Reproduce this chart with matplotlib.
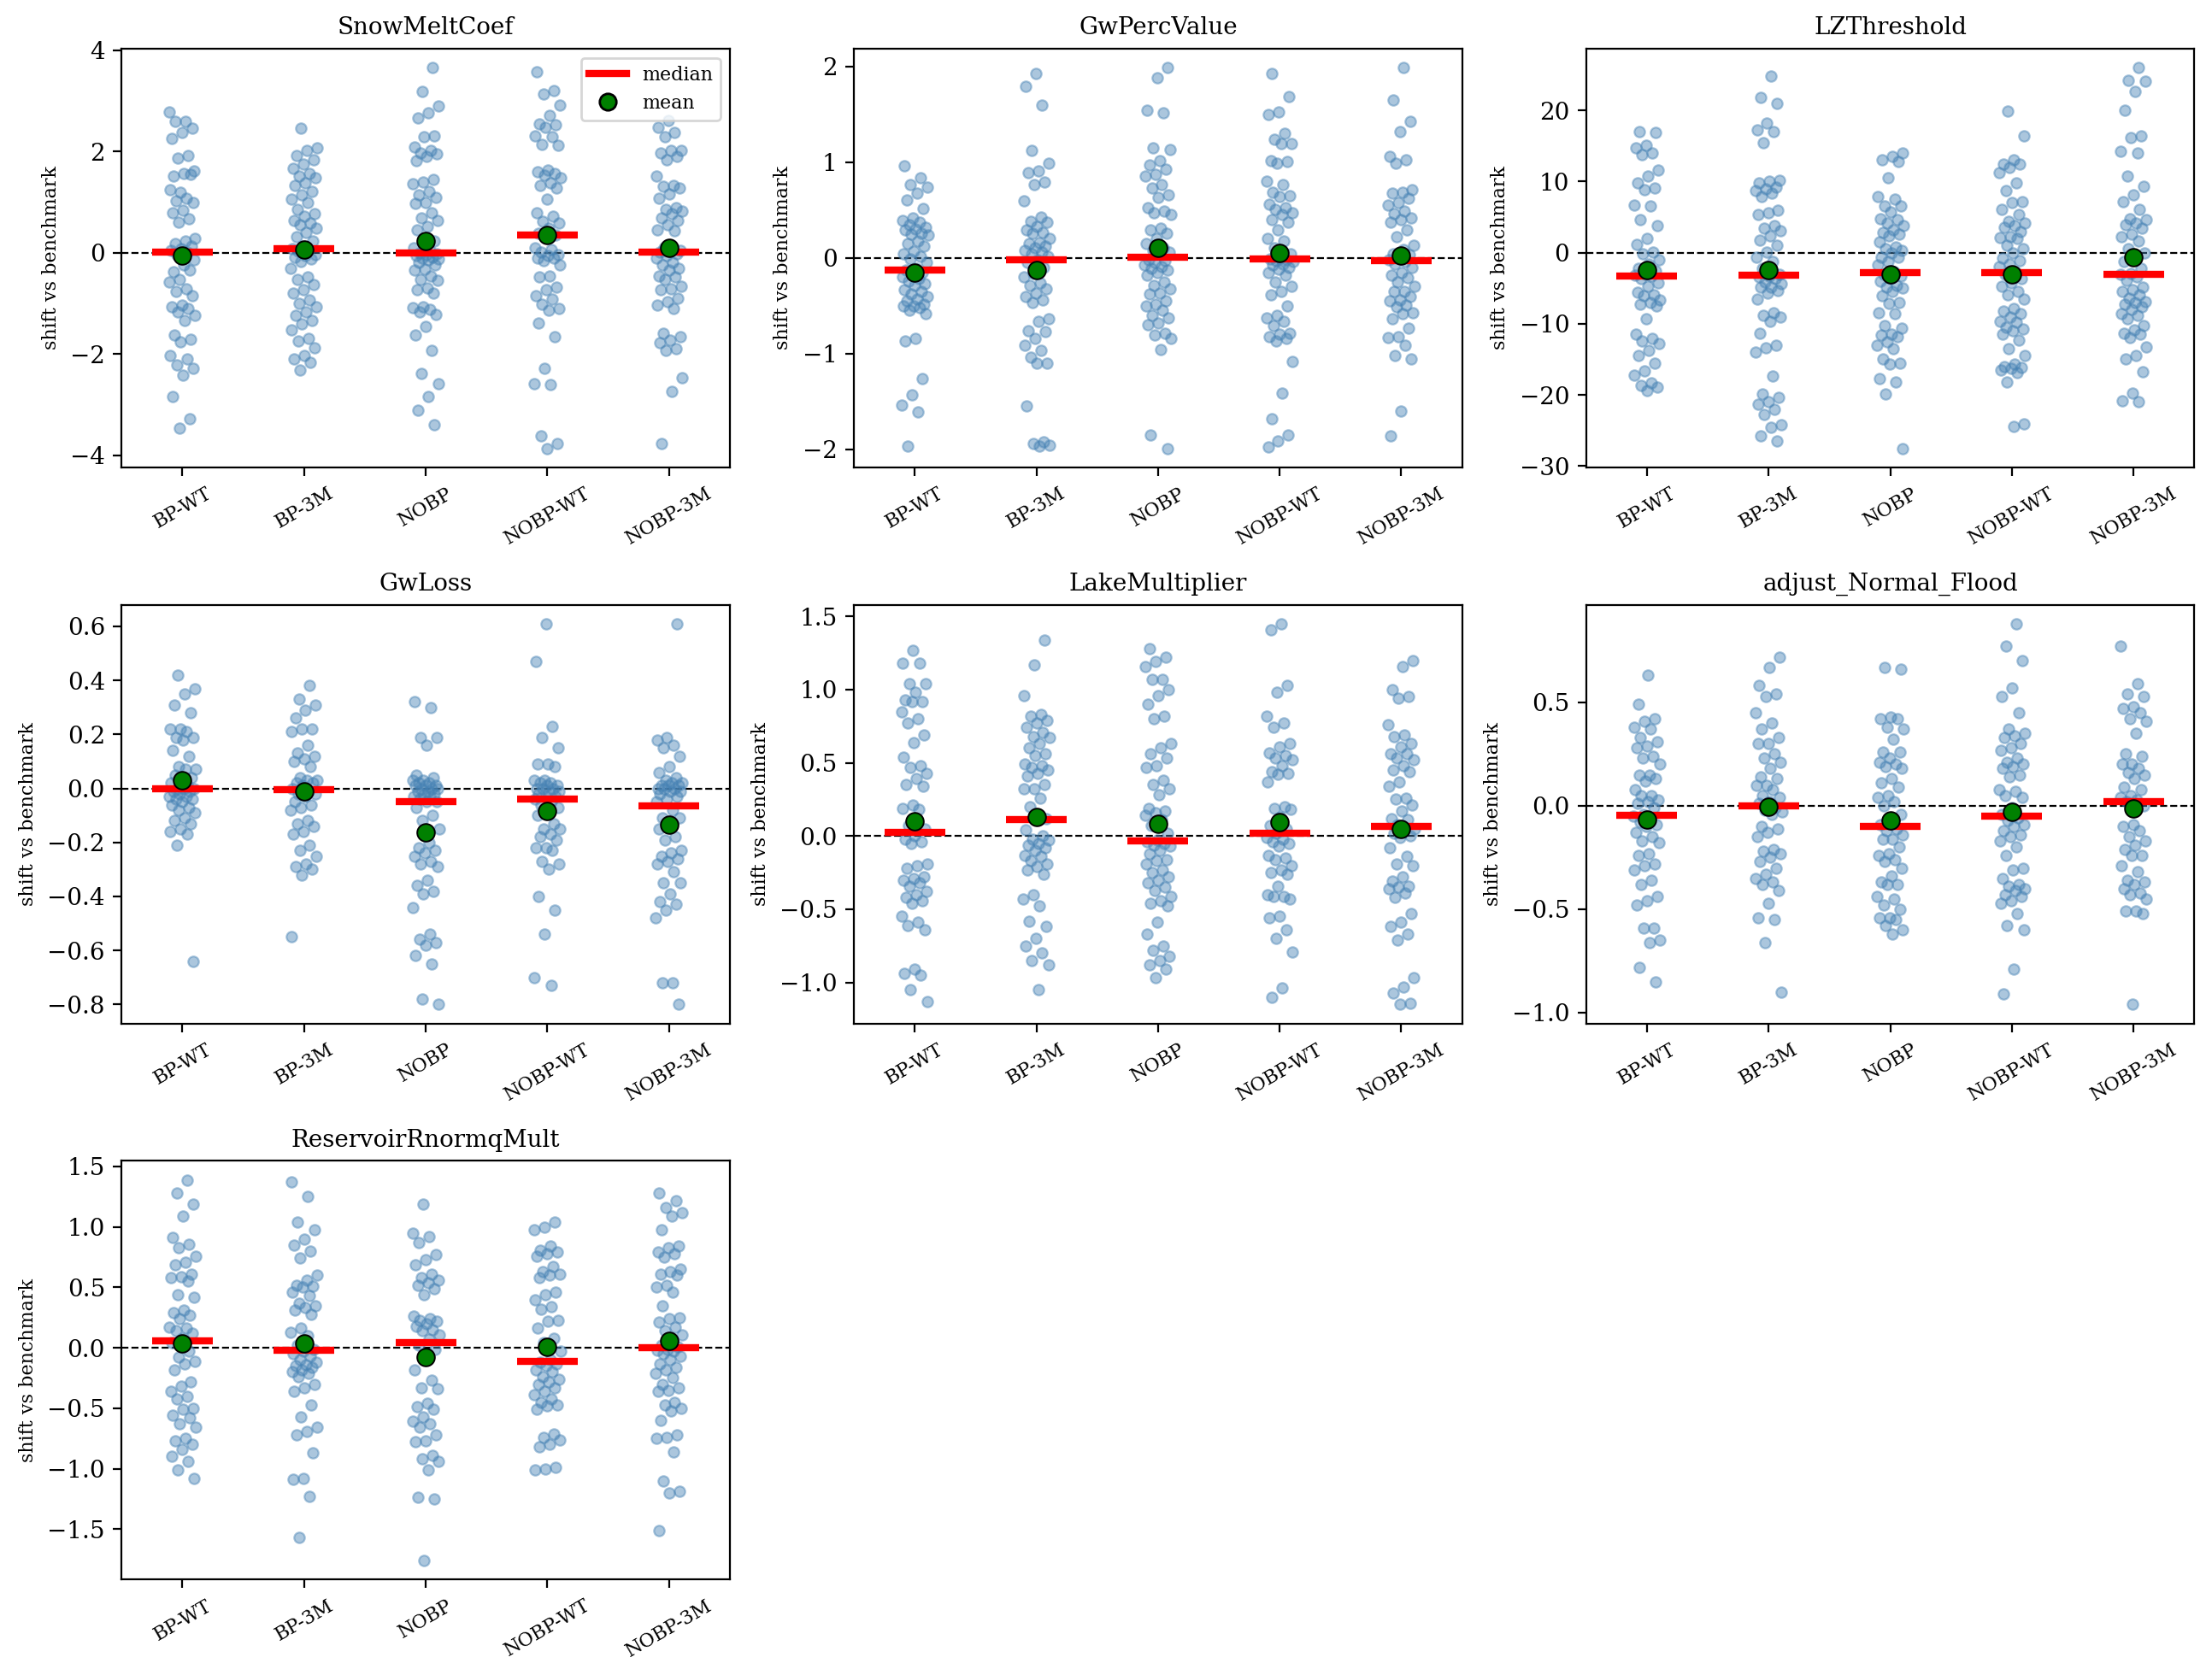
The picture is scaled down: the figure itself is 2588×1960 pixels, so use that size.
import matplotlib
matplotlib.use("Agg")
import matplotlib.pyplot as plt
import numpy as np
from matplotlib.lines import Line2D

plt.rcParams["font.family"] = "serif"

groups = ["BP-WT", "BP-3M", "NOBP", "NOBP-WT", "NOBP-3M"]
titles = ["SnowMeltCoef", "GwPercValue", "LZThreshold", "GwLoss",
          "LakeMultiplier", "adjust_Normal_Flood", "ReservoirRnormqMult"]

# shift vs benchmark, one list per group
snowmelt = [
    [2.78, 2.6, 2.6, 2.47, 2.38, 2.26, 1.92, 1.88, 1.62, 1.57, 1.52, 1.55, 1.19, 1.24, 1.08, 1.03, 1.0, 0.85, 0.79,
     0.67, 0.61, 0.28, 0.24, 0.19, 0.14, 0.09, 0.05, 0.02, -0.03, -0.14, -0.24, -0.37, -0.34, -0.52, -0.57, -0.71,
     -0.76, -0.85, -1.03, -1.07, -1.1, -1.17, -1.24, -1.34, -1.62, -1.7, -1.76, -2.03, -2.09, -2.21, -2.28, -2.41,
     -2.83, -3.28, -3.47],
    [2.46, 2.07, 2.02, 1.93, 1.84, 1.76, 1.67, 1.57, 1.52, 1.48, 1.38, 1.34, 1.21, 1.14, 1.07, 1.0, 0.86, 0.78, 0.72,
     0.64, 0.59, 0.55, 0.48, 0.41, 0.32, 0.24, 0.14, 0.09, 0.06, 0.03, -0.03, -0.05, -0.09, -0.12, -0.17, -0.31, -0.48,
     -0.52, -0.62, -0.72, -0.79, -0.93, -1.0, -1.07, -1.17, -1.24, -1.33, -1.41, -1.52, -1.69, -1.74, -1.88, -2.03,
     -2.09, -2.17, -2.32],
    [3.66, 3.19, 2.9, 2.76, 2.67, 2.31, 2.29, 2.1, 2.02, 1.98, 1.95, 1.9, 1.83, 1.45, 1.4, 1.36, 1.21, 1.15, 1.1, 1.0,
     0.97, 0.79, 0.69, 0.64, 0.52, 0.45, 0.24, 0.17, 0.1, 0.05, 0.0, -0.02, -0.04, -0.06, -0.08, -0.1, -0.12, -0.14,
     -0.18, -0.24, -0.32, -0.34, -0.45, -0.52, -0.55, -0.69, -0.72, -0.79, -1.06, -1.08, -1.12, -1.17, -1.21, -1.45,
     -1.63, -1.93, -2.39, -2.59, -2.83, -3.1, -3.4],
    [3.57, 3.21, 3.14, 2.92, 2.71, 2.55, 2.53, 2.48, 2.31, 2.3, 2.14, 2.12, 1.64, 1.61, 1.57, 1.53, 1.48, 1.38, 1.34,
     1.28, 1.07, 0.79, 0.72, 0.62, 0.59, 0.48, 0.38, 0.36, 0.3, 0.1, 0.07, 0.02, -0.03, -0.05, -0.1, -0.1, -0.16, -0.24,
     -0.45, -0.48, -0.67, -0.72, -0.85, -0.92, -1.01, -1.1, -1.14, -1.38, -1.66, -2.28, -2.59, -2.6, -3.62, -3.76,
     -3.86],
    [2.62, 2.48, 2.38, 2.3, 2.03, 2.02, 1.98, 1.91, 1.84, 1.52, 1.34, 1.31, 1.28, 1.17, 1.08, 0.9, 0.86, 0.83, 0.78,
     0.69, 0.64, 0.55, 0.46, 0.43, 0.1, 0.05, 0.03, 0.01, -0.02, -0.05, -0.1, -0.19, -0.24, -0.3, -0.34, -0.45, -0.48,
     -0.52, -0.66, -0.71, -0.72, -0.9, -0.97, -1.03, -1.1, -1.59, -1.66, -1.72, -1.77, -1.9, -1.93, -2.46, -2.74,
     -3.76],
]

gwperc = [
    [0.96, 0.84, 0.77, 0.74, 0.68, 0.61, 0.52, 0.42, 0.39, 0.37, 0.35, 0.32, 0.3, 0.29, 0.26, 0.25, 0.24, 0.18, 0.15,
     0.12, 0.07, 0.04, 0.02, -0.01, -0.05, -0.11, -0.13, -0.15, -0.16, -0.2, -0.22, -0.24, -0.27, -0.29, -0.33, -0.35,
     -0.38, -0.4, -0.43, -0.45, -0.48, -0.5, -0.5, -0.52, -0.55, -0.58, -0.84, -0.87, -1.26, -1.43, -1.54, -1.61,
     -1.97],
    [1.93, 1.79, 1.6, 1.12, 0.99, 0.91, 0.89, 0.79, 0.77, 0.6, 0.43, 0.38, 0.37, 0.33, 0.29, 0.27, 0.26, 0.2, 0.16,
     0.15, 0.12, 0.11, 0.08, 0.06, 0.04, 0.02, -0.02, -0.05, -0.1, -0.16, -0.2, -0.26, -0.29, -0.32, -0.37, -0.4, -0.44,
     -0.47, -0.64, -0.66, -0.76, -0.77, -0.84, -0.91, -0.97, -1.04, -1.1, -1.1, -1.55, -1.92, -1.94, -1.96, -1.97],
    [1.99, 1.88, 1.54, 1.52, 1.15, 1.13, 1.02, 0.97, 0.93, 0.87, 0.86, 0.77, 0.73, 0.66, 0.63, 0.53, 0.49, 0.47, 0.45,
     0.31, 0.29, 0.26, 0.2, 0.15, 0.11, 0.08, 0.06, 0.04, -0.02, -0.03, -0.05, -0.07, -0.09, -0.11, -0.13, -0.15,
     -0.18, -0.25, -0.29, -0.32, -0.37, -0.38, -0.45, -0.48, -0.5, -0.55, -0.6, -0.63, -0.68, -0.7, -0.79, -0.81,
     -0.84, -0.96, -1.85, -1.99],
    [1.93, 1.69, 1.53, 1.5, 1.3, 1.24, 1.2, 1.2, 1.02, 1.01, 0.99, 0.8, 0.77, 0.69, 0.65, 0.64, 0.56, 0.53, 0.51, 0.47,
     0.45, 0.4, 0.37, 0.29, 0.2, 0.18, 0.11, 0.04, 0.0, -0.01, -0.02, -0.03, -0.04, -0.06, -0.07, -0.1, -0.12, -0.15,
     -0.18, -0.25, -0.3, -0.35, -0.39, -0.5, -0.6, -0.63, -0.66, -0.71, -0.79, -0.8, -0.82, -0.84, -0.87, -1.08,
     -1.41, -1.68, -1.85, -1.91, -1.98],
    [1.99, 1.65, 1.43, 1.32, 1.06, 1.03, 0.99, 0.71, 0.69, 0.68, 0.62, 0.58, 0.55, 0.49, 0.46, 0.42, 0.4, 0.37, 0.29,
     0.22, 0.13, 0.09, 0.04, 0.03, 0.0, -0.02, -0.04, -0.06, -0.1, -0.15, -0.18, -0.21, -0.25, -0.3, -0.35, -0.35,
     -0.4, -0.44, -0.45, -0.49, -0.51, -0.57, -0.58, -0.64, -0.73, -0.82, -0.83, -0.91, -1.02, -1.06, -1.6, -1.86],
]

lzthresh = [
    [16.95, 16.85, 15.1, 14.7, 14.0, 13.8, 11.6, 10.8, 9.8, 9.1, 8.8, 6.7, 6.6, 4.6, 3.8, 2.0, 1.1, 0.1, -0.2, -1.0,
     -1.6, -2.2, -2.6, -3.0, -3.2, -3.3, -3.7, -4.2, -4.7, -5.6, -5.9, -6.1, -6.7, -7.0, -7.2, -7.5, -9.3, -11.5,
     -12.0, -12.4, -12.8, -13.8, -14.5, -15.5, -16.6, -17.2, -18.3, -18.7, -18.9, -19.4],
    [24.8, 21.8, 21.0, 18.2, 17.3, 17.0, 15.4, 10.2, 10.0, 9.8, 9.2, 9.0, 8.7, 8.4, 7.9, 5.9, 5.6, 5.3, 3.8, 3.4, 3.1,
     2.3, 1.7, 1.0, 0.1, -0.7, -1.3, -2.2, -3.0, -3.3, -3.4, -3.6, -4.1, -4.4, -4.8, -4.9, -5.3, -5.7, -6.5, -8.4,
     -8.8, -9.1, -9.6, -11.3, -13.0, -13.4, -14.0, -17.4, -19.9, -20.4, -20.9, -21.3, -22.0, -22.8, -24.2, -24.6,
     -25.7, -26.5],
    [14.0, 13.5, 13.1, 12.8, 10.5, 7.9, 7.5, 6.6, 6.5, 5.7, 4.8, 4.6, 4.2, 3.8, 3.2, 2.8, 2.6, 2.3, 1.5, 0.8, 0.6, 0.3,
     0.0, -0.6, -0.7, -1.3, -1.7, -2.7, -3.0, -3.3, -3.7, -4.0, -4.6, -4.9, -5.0, -5.5, -6.0, -7.0, -7.1, -8.4, -8.6,
     -10.3, -10.6, -11.4, -11.6, -11.8, -12.5, -13.0, -13.5, -15.0, -15.5, -15.7, -17.7, -18.2, -19.9, -27.5],
    [19.9, 16.4, 13.0, 12.5, 12.4, 12.0, 11.3, 9.8, 8.7, 7.2, 7.0, 6.1, 5.3, 4.4, 4.2, 3.8, 3.6, 2.9, 2.2, 2.1, 2.0,
     1.0, 0.6, -0.1, -0.8, -1.1, -1.6, -2.0, -2.7, -3.0, -3.7, -4.2, -4.7, -5.4, -5.9, -6.5, -7.9, -8.2, -8.6, -9.1,
     -9.6, -9.8, -10.5, -10.7, -11.0, -11.5, -12.3, -13.5, -14.5, -15.7, -16.0, -16.2, -16.3, -16.5, -16.9, -18.2,
     -24.1, -24.4],
    [26.0, 24.2, 24.1, 22.6, 20.0, 16.4, 16.2, 14.2, 14.0, 10.8, 9.3, 8.1, 7.1, 6.1, 4.8, 4.6, 4.2, 3.9, 3.4, 2.6, 2.2,
     1.6, 0.5, -0.1, -0.7, -1.2, -2.2, -2.9, -3.1, -3.4, -3.9, -4.9, -5.2, -5.5, -5.9, -6.4, -6.9, -7.0, -7.2, -7.6,
     -8.0, -8.6, -8.8, -9.3, -10.3, -10.8, -11.3, -11.5, -11.9, -13.3, -14.5, -15.0, -16.7, -19.7, -20.8, -20.9],
]

gwloss = [
    [0.42, 0.37, 0.35, 0.31, 0.28, 0.22, 0.22, 0.21, 0.19, 0.19, 0.18, 0.14, 0.12, 0.08, 0.07, 0.07, 0.05, 0.04, 0.03,
     0.02, 0.01, 0.0, 0.0, 0.0, -0.01, -0.01, -0.02, -0.03, -0.03, -0.04, -0.04, -0.05, -0.06, -0.07, -0.08, -0.09,
     -0.11, -0.12, -0.13, -0.15, -0.16, -0.17, -0.21, -0.64],
    [0.38, 0.33, 0.31, 0.29, 0.26, 0.22, 0.22, 0.21, 0.16, 0.13, 0.12, 0.11, 0.1, 0.08, 0.04, 0.03, 0.03, 0.02, 0.02,
     0.01, 0.0, -0.01, -0.02, -0.02, -0.03, -0.05, -0.06, -0.07, -0.08, -0.12, -0.13, -0.14, -0.16, -0.17, -0.21,
     -0.23, -0.25, -0.28, -0.29, -0.3, -0.32, -0.55],
    [0.32, 0.3, 0.19, 0.19, 0.16, 0.05, 0.04, 0.03, 0.03, 0.02, 0.02, 0.01, 0.01, 0.01, 0.0, 0.0, 0.0, -0.01, -0.01,
     -0.02, -0.02, -0.03, -0.03, -0.04, -0.05, -0.05, -0.07, -0.1, -0.12, -0.15, -0.2, -0.22, -0.23, -0.24, -0.25,
     -0.27, -0.28, -0.29, -0.34, -0.36, -0.38, -0.39, -0.44, -0.54, -0.56, -0.57, -0.58, -0.62, -0.65, -0.78, -0.8],
    [0.61, 0.47, 0.23, 0.19, 0.15, 0.09, 0.09, 0.08, 0.03, 0.03, 0.02, 0.02, 0.01, 0.01, 0.0, 0.0, 0.0, -0.01, -0.01,
     -0.02, -0.03, -0.03, -0.04, -0.05, -0.06, -0.07, -0.08, -0.1, -0.13, -0.15, -0.15, -0.17, -0.18, -0.19, -0.22,
     -0.22, -0.23, -0.27, -0.28, -0.3, -0.4, -0.45, -0.54, -0.7, -0.73],
    [0.61, 0.19, 0.18, 0.16, 0.15, 0.12, 0.08, 0.06, 0.04, 0.03, 0.02, 0.02, 0.01, 0.01, 0.01, 0.0, 0.0, 0.0, -0.01,
     -0.01, -0.02, -0.03, -0.04, -0.05, -0.08, -0.11, -0.11, -0.14, -0.15, -0.18, -0.19, -0.23, -0.24, -0.25, -0.26,
     -0.27, -0.28, -0.31, -0.35, -0.35, -0.39, -0.42, -0.43, -0.45, -0.48, -0.72, -0.72, -0.8],
]

lakemult = [
    [1.27, 1.18, 1.18, 1.04, 1.04, 0.98, 0.93, 0.92, 0.92, 0.85, 0.8, 0.77, 0.69, 0.64, 0.54, 0.48, 0.47, 0.43, 0.39,
     0.35, 0.34, 0.21, 0.19, 0.18, 0.07, 0.05, 0.0, -0.02, -0.04, -0.05, -0.19, -0.2, -0.22, -0.28, -0.29, -0.3,
     -0.32, -0.34, -0.38, -0.4, -0.42, -0.44, -0.46, -0.55, -0.59, -0.61, -0.64, -0.91, -0.94, -0.95, -1.05, -1.13],
    [1.34, 1.17, 0.96, 0.83, 0.82, 0.79, 0.77, 0.74, 0.71, 0.68, 0.67, 0.63, 0.6, 0.56, 0.55, 0.49, 0.48, 0.47, 0.45,
     0.43, 0.41, 0.35, 0.32, 0.32, 0.26, 0.2, 0.12, 0.11, 0.04, 0.0, -0.02, -0.03, -0.05, -0.06, -0.08, -0.1, -0.13,
     -0.14, -0.17, -0.19, -0.21, -0.23, -0.26, -0.4, -0.43, -0.48, -0.58, -0.62, -0.7, -0.75, -0.8, -0.85, -0.88,
     -1.05],
    [1.28, 1.22, 1.19, 1.16, 1.07, 1.07, 1.0, 0.96, 0.9, 0.82, 0.8, 0.63, 0.6, 0.56, 0.53, 0.48, 0.47, 0.38, 0.35,
     0.32, 0.28, 0.19, 0.17, 0.16, 0.14, 0.11, 0.07, 0.02, -0.03, -0.04, -0.05, -0.06, -0.07, -0.1, -0.12, -0.16,
     -0.17, -0.19, -0.23, -0.25, -0.28, -0.3, -0.32, -0.35, -0.37, -0.41, -0.44, -0.46, -0.48, -0.59, -0.67, -0.75,
     -0.78, -0.82, -0.85, -0.88, -0.91, -0.97],
    [1.45, 1.41, 1.03, 0.98, 0.82, 0.77, 0.74, 0.63, 0.61, 0.57, 0.55, 0.53, 0.52, 0.48, 0.44, 0.43, 0.42, 0.37, 0.2,
     0.19, 0.18, 0.13, 0.07, 0.05, 0.02, -0.01, -0.02, -0.04, -0.05, -0.07, -0.13, -0.15, -0.16, -0.2, -0.23, -0.25,
     -0.26, -0.34, -0.4, -0.41, -0.41, -0.43, -0.55, -0.56, -0.64, -0.7, -0.79, -1.04, -1.1],
    [1.2, 1.16, 1.0, 0.95, 0.94, 0.76, 0.69, 0.68, 0.63, 0.61, 0.56, 0.56, 0.53, 0.52, 0.48, 0.45, 0.44, 0.37, 0.34,
     0.26, 0.25, 0.21, 0.17, 0.12, 0.11, 0.08, 0.05, 0.04, 0.02, 0.0, -0.01, -0.08, -0.14, -0.19, -0.2, -0.28, -0.31,
     -0.34, -0.35, -0.36, -0.39, -0.42, -0.53, -0.59, -0.62, -0.67, -0.71, -0.97, -1.03, -1.07, -1.14, -1.15],
]

normflood = [
    [0.63, 0.49, 0.42, 0.41, 0.38, 0.37, 0.33, 0.31, 0.29, 0.28, 0.24, 0.23, 0.2, 0.15, 0.15, 0.13, 0.12, 0.08, 0.05,
     0.05, 0.03, 0.02, 0.01, -0.01, -0.04, -0.05, -0.07, -0.08, -0.09, -0.1, -0.13, -0.15, -0.17, -0.18, -0.23,
     -0.24, -0.28, -0.29, -0.31, -0.36, -0.38, -0.44, -0.46, -0.48, -0.59, -0.59, -0.65, -0.66, -0.78, -0.85],
    [0.72, 0.67, 0.58, 0.54, 0.53, 0.45, 0.4, 0.37, 0.33, 0.3, 0.3, 0.25, 0.23, 0.21, 0.18, 0.14, 0.13, 0.1, 0.1, 0.08,
     0.05, 0.04, 0.02, 0.01, -0.01, -0.02, -0.03, -0.04, -0.1, -0.11, -0.13, -0.15, -0.21, -0.22, -0.23, -0.25, -0.27,
     -0.3, -0.33, -0.35, -0.37, -0.38, -0.41, -0.47, -0.54, -0.55, -0.66, -0.9],
    [0.67, 0.66, 0.43, 0.42, 0.42, 0.38, 0.37, 0.32, 0.26, 0.26, 0.23, 0.21, 0.2, 0.19, 0.18, 0.13, 0.11, 0.09, 0.05,
     0.04, 0.02, 0.0, -0.04, -0.07, -0.09, -0.11, -0.12, -0.14, -0.16, -0.16, -0.2, -0.23, -0.24, -0.26, -0.27, -0.3,
     -0.34, -0.37, -0.38, -0.38, -0.44, -0.45, -0.48, -0.5, -0.54, -0.54, -0.55, -0.58, -0.6, -0.62],
    [0.88, 0.77, 0.7, 0.57, 0.53, 0.45, 0.37, 0.35, 0.34, 0.33, 0.3, 0.28, 0.27, 0.23, 0.21, 0.2, 0.19, 0.18, 0.15,
     0.14, 0.08, 0.07, 0.05, 0.04, -0.01, -0.04, -0.06, -0.07, -0.09, -0.1, -0.12, -0.14, -0.15, -0.17, -0.2, -0.24,
     -0.3, -0.31, -0.35, -0.38, -0.39, -0.4, -0.41, -0.43, -0.44, -0.46, -0.47, -0.52, -0.58, -0.6, -0.79, -0.91],
    [0.77, 0.59, 0.54, 0.53, 0.48, 0.47, 0.45, 0.42, 0.41, 0.35, 0.25, 0.24, 0.2, 0.2, 0.18, 0.16, 0.15, 0.13, 0.09,
     0.08, 0.05, 0.04, 0.03, 0.02, 0.0, -0.09, -0.1, -0.12, -0.15, -0.17, -0.19, -0.21, -0.24, -0.24, -0.29, -0.32,
     -0.36, -0.37, -0.38, -0.4, -0.42, -0.43, -0.45, -0.51, -0.51, -0.52, -0.96],
]

resmult = [
    [1.39, 1.28, 1.19, 1.09, 0.91, 0.86, 0.83, 0.76, 0.71, 0.69, 0.61, 0.59, 0.58, 0.55, 0.44, 0.42, 0.31, 0.29, 0.27,
     0.24, 0.17, 0.16, 0.14, 0.12, 0.08, 0.04, -0.03, -0.08, -0.11, -0.13, -0.18, -0.28, -0.32, -0.36, -0.4, -0.42,
     -0.5, -0.51, -0.56, -0.58, -0.63, -0.66, -0.75, -0.77, -0.8, -0.84, -0.9, -0.94, -1.01, -1.08],
    [1.37, 1.25, 1.04, 0.98, 0.9, 0.85, 0.8, 0.74, 0.6, 0.56, 0.52, 0.51, 0.5, 0.46, 0.43, 0.37, 0.35, 0.33, 0.31,
     0.28, 0.16, 0.13, 0.1, 0.02, -0.01, -0.03, -0.05, -0.07, -0.1, -0.12, -0.14, -0.15, -0.16, -0.18, -0.2, -0.21,
     -0.24, -0.3, -0.33, -0.36, -0.47, -0.57, -0.66, -0.69, -0.72, -0.87, -1.08, -1.09, -1.23, -1.57],
    [1.19, 0.95, 0.92, 0.87, 0.77, 0.73, 0.69, 0.61, 0.58, 0.56, 0.54, 0.52, 0.49, 0.44, 0.26, 0.24, 0.23, 0.22, 0.2,
     0.18, 0.15, 0.14, 0.11, 0.07, 0.02, -0.01, -0.1, -0.18, -0.27, -0.33, -0.34, -0.46, -0.49, -0.51, -0.57, -0.61,
     -0.63, -0.66, -0.72, -0.77, -0.78, -0.89, -0.92, -0.94, -1.01, -1.24, -1.25, -1.76],
    [1.04, 1.0, 0.98, 0.84, 0.81, 0.79, 0.78, 0.76, 0.67, 0.63, 0.61, 0.6, 0.58, 0.46, 0.44, 0.4, 0.34, 0.32, 0.23,
     0.22, 0.16, 0.08, 0.04, -0.03, -0.1, -0.12, -0.13, -0.15, -0.18, -0.2, -0.24, -0.26, -0.28, -0.3, -0.33, -0.36,
     -0.39, -0.42, -0.45, -0.47, -0.48, -0.51, -0.71, -0.74, -0.76, -0.8, -0.82, -0.99, -1.0, -1.01],
    [1.28, 1.22, 1.16, 1.12, 1.09, 0.98, 0.84, 0.83, 0.79, 0.78, 0.75, 0.65, 0.63, 0.61, 0.6, 0.52, 0.5, 0.46, 0.35,
     0.25, 0.24, 0.21, 0.17, 0.14, 0.11, 0.05, 0.02, 0.01, -0.01, -0.02, -0.03, -0.05, -0.07, -0.1, -0.13, -0.16,
     -0.18, -0.21, -0.25, -0.3, -0.33, -0.35, -0.36, -0.45, -0.47, -0.5, -0.52, -0.6, -0.72, -0.74, -0.75, -0.86,
     -1.1, -1.19, -1.2, -1.51],
]

all_params = [snowmelt, gwperc, lzthresh, gwloss, lakemult, normflood, resmult]

fig, axs = plt.subplots(3, 3, figsize=(12.94, 9.8))
fig.subplots_adjust(left=0.055, right=0.992, top=0.971, bottom=0.057, wspace=0.204, hspace=0.328)
axs = axs.flatten()

for p, (ax, title, data) in enumerate(zip(axs, titles, all_params)):
    for g, vals in enumerate(data):
        vals = np.array(vals)
        # deterministic strip jitter
        k = np.arange(len(vals))
        offs = ((k * 0.618034 + g * 0.37 + p * 0.11) % 1.0 - 0.5) * 0.22
        ax.scatter(g + offs, vals, s=20, color="steelblue", alpha=0.45,
                   edgecolors="steelblue", linewidths=0.8, zorder=2)
        ax.hlines(np.median(vals), g - 0.25, g + 0.25, color="red", lw=3, zorder=3)
        ax.scatter(g, vals.mean(), s=55, color="green", edgecolors="black", linewidths=0.7, zorder=4)
    ax.axhline(0, color="black", ls="--", lw=0.8, zorder=1)
    ax.set_xlim(-0.5, 4.5)
    ax.set_xticks(range(len(groups)))
    ax.set_xticklabels(groups, rotation=30, fontsize=8)
    ax.tick_params(axis="y", labelsize=10)
    ax.set_title(title, fontsize=10)
    ax.set_ylabel("shift vs benchmark", fontsize=8)

handles = [Line2D([0], [0], color="red", lw=3, label="median"),
           Line2D([0], [0], marker="o", color="none", markerfacecolor="green",
                  markeredgecolor="black", markersize=7, label="mean")]
axs[0].legend(handles=handles, loc="upper right", fontsize=8)

for ax in axs[len(titles):]:
    ax.axis("off")

fig.savefig("out.png", dpi=200)
